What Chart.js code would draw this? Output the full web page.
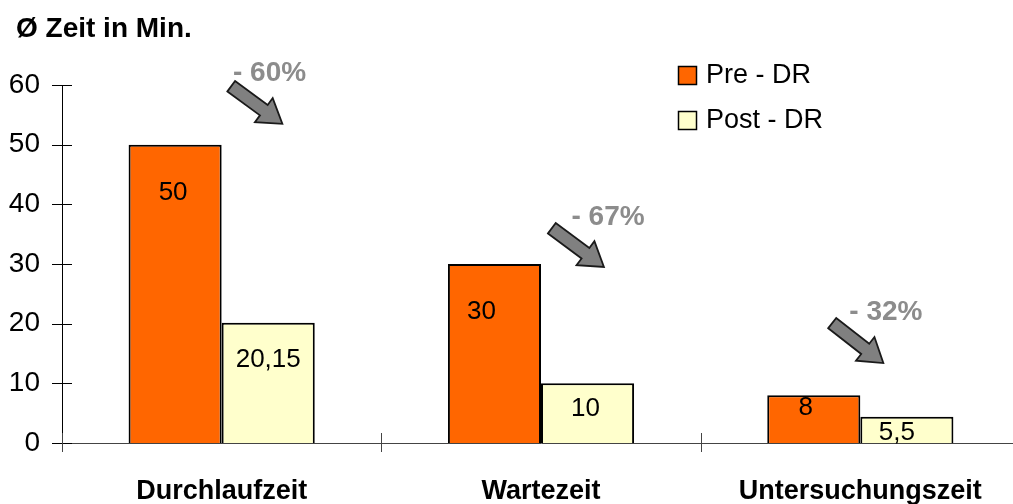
<!DOCTYPE html>
<html>
<head>
<meta charset="utf-8">
<script src="https://cdn.jsdelivr.net/npm/chart.js@4"></script>
<style>
  html, body { margin: 0; padding: 0; background: #fff; overflow: hidden; }
  #wrap { width: 1013px; height: 504px; overflow: hidden; position: relative; }
  canvas { display: block; }
</style>
</head>
<body>
<div id="wrap"><canvas id="c" width="1020" height="504" style="width:1020px;height:504px"></canvas></div>
<script>
// ---- data ----
const categories = ['Durchlaufzeit', 'Wartezeit', 'Untersuchungszeit'];
const seriesNames = ['Pre - DR', 'Post - DR'];
const preValues = [50, 30, 8];
const postValues = [20.15, 10, 4.4];
const preLabels = ['50', '30', '8'];
const postLabels = ['20,15', '10', '5,5'];
const changeLabels = ['- 60%', '- 67%', '- 32%'];
const yTickStep = 10;
const yMax = 60;
const titleText = 'Ø Zeit in Min.';

// ---- annotation layout (category offset, value) ----
const arrowTail = [[0.03, 59.8], [0.034, 36.0], [-0.088, 20.1]];
const arrowTip = [[0.19, 53.5], [0.197, 29.5], [0.072, 13.4]];
const changeLabelPos = [[0.15, 61.9], [0.21, 37.8], [0.08, 21.9]];
// value label offsets (px) relative to bar centre / bar top
const preLabelOffset = [[-2, 48], [-13, 48], [-8, 13]];
const postLabelOffset = [[0, 37], [-2, 25], [-10, 16]];

const FONT = '"Liberation Sans", Arial, sans-serif';

const overlay = {
  id: 'overlay',
  afterDatasetsDraw(chart) {
    const ctx = chart.ctx;
    const ca = chart.chartArea;
    const xs = chart.scales.x, ys = chart.scales.y;
    const catW = (ca.right - ca.left) / categories.length;
    ctx.save();
    // crossing ticks on y axis
    ctx.strokeStyle = '#000';
    ctx.lineWidth = 1;
    ys.ticks.forEach(t => {
      const py = Math.round(ys.getPixelForValue(t.value)) + 0.5;
      ctx.beginPath();
      ctx.moveTo(ca.left - 10, py);
      ctx.lineTo(ca.left + 10, py);
      ctx.stroke();
    });
    // category boundary ticks on x axis
    ctx.strokeStyle = '#444';
    for (let i = 0; i <= categories.length; i++) {
      const px = Math.round(ca.left + i * catW) + 0.5;
      ctx.beginPath();
      ctx.moveTo(px, ca.bottom - 10);
      ctx.lineTo(px, ca.bottom + 9);
      ctx.stroke();
    }
    // value labels
    ctx.fillStyle = '#000';
    ctx.font = '26px ' + FONT;
    ctx.textAlign = 'center';
    ctx.textBaseline = 'middle';
    const lbls = [preLabels, postLabels];
    const offs = [preLabelOffset, postLabelOffset];
    chart.data.datasets.forEach((ds, di) => {
      chart.getDatasetMeta(di).data.forEach((bar, i) => {
        ctx.fillText(lbls[di][i], bar.x + offs[di][i][0], bar.y + offs[di][i][1]);
      });
    });
    // arrows
    const toPx = (p, i) => [xs.getPixelForValue(i) + p[0] * catW, ys.getPixelForValue(p[1])];
    for (let i = 0; i < categories.length; i++) {
      const [tx, ty] = toPx(arrowTail[i], i);
      const [px, py] = toPx(arrowTip[i], i);
      const len = Math.hypot(px - tx, py - ty);
      const dx = (px - tx) / len, dy = (py - ty) / len;
      const nx = -dy, ny = dx;
      const sw = 6.5, hw = 15, hl = 23;
      const hx = px - dx * hl, hy = py - dy * hl;
      ctx.beginPath();
      ctx.moveTo(tx + nx * sw, ty + ny * sw);
      ctx.lineTo(hx + nx * sw, hy + ny * sw);
      ctx.lineTo(hx + nx * hw, hy + ny * hw);
      ctx.lineTo(px, py);
      ctx.lineTo(hx - nx * hw, hy - ny * hw);
      ctx.lineTo(hx - nx * sw, hy - ny * sw);
      ctx.lineTo(tx - nx * sw, ty - ny * sw);
      ctx.closePath();
      ctx.fillStyle = '#808080';
      ctx.fill();
      ctx.strokeStyle = '#1a1a1a';
      ctx.lineWidth = 1.8;
      ctx.lineJoin = 'miter';
      ctx.stroke();
      // change label
      const [lx, ly] = toPx(changeLabelPos[i], i);
      ctx.fillStyle = '#8c8c8c';
      ctx.font = 'bold 28px ' + FONT;
      ctx.textAlign = 'center';
      ctx.textBaseline = 'middle';
      ctx.fillText(changeLabels[i], lx, ly);
    }
    // title
    ctx.fillStyle = '#000';
    ctx.font = 'bold 28px ' + FONT;
    ctx.textAlign = 'left';
    ctx.textBaseline = 'middle';
    ctx.fillText(titleText, 16, 29);
    // legend
    ctx.font = '27px ' + FONT;
    chart.data.datasets.forEach((ds, di) => {
      const y = 66 + di * 45;
      ctx.fillStyle = ds.backgroundColor;
      ctx.fillRect(678.5, y + 0.5, 18, 18);
      ctx.strokeStyle = '#000';
      ctx.lineWidth = 1.5;
      ctx.strokeRect(678.5, y + 0.5, 18, 18);
      ctx.fillStyle = '#000';
      ctx.fillText(ds.label, 706, y + 10);
    });
    ctx.restore();
  }
};

new Chart(document.getElementById('c'), {
  type: 'bar',
  data: {
    labels: categories,
    datasets: [
      { label: seriesNames[0], data: preValues, backgroundColor: '#FF6600', borderColor: '#000', borderWidth: 2 },
      { label: seriesNames[1], data: postValues, backgroundColor: '#FFFFCC', borderColor: '#000', borderWidth: 2 }
    ]
  },
  options: {
    responsive: false,
    animation: false,
    events: [],
    layout: { padding: { top: 85, left: 0, right: 0, bottom: 0 } },
    datasets: { bar: { categoryPercentage: 0.583, barPercentage: 1.0 } },
    plugins: { legend: { display: false }, title: { display: false }, tooltip: { enabled: false } },
    scales: {
      x: {
        grid: { display: false },
        border: { display: true, color: '#444', width: 1 },
        ticks: { color: '#000', font: { family: FONT, size: 27, weight: 'bold' }, padding: 24, maxRotation: 0, autoSkip: false },
        afterFit(s) { s.height = 61; }
      },
      y: {
        min: 0, max: yMax,
        grid: { display: false },
        border: { display: true, color: '#000', width: 1 },
        ticks: { stepSize: yTickStep, color: '#000', font: { family: FONT, size: 28 }, padding: 14 },
        afterFit(s) { s.width = 62; }
      }
    }
  },
  plugins: [overlay]
});
</script>
</body>
</html>
